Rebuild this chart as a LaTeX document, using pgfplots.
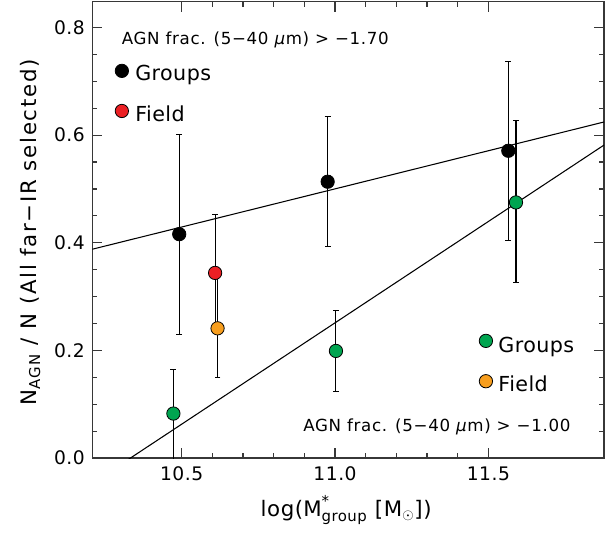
\documentclass[border=0pt]{standalone}
\usepackage{pgfplots}
\pgfplotsset{compat=1.18}
\usepackage{amsmath}
\usepackage{fontspec}
\setmainfont{DejaVu Sans}
\definecolor{axgray}{RGB}{55,55,55}
\definecolor{ptred}{RGB}{236,32,36}
\definecolor{ptgreen}{RGB}{0,165,80}
\definecolor{ptorange}{RGB}{247,158,30}
\begin{document}
\begin{tikzpicture}
\begin{axis}[
  at={(0,0)}, anchor=south west, scale only axis,
  width=383.8pt, height=342.2pt,
  xmin=10.2085, xmax=11.877, ymin=0, ymax=0.848,
  xtick={10.5,11.0,11.5}, minor x tick num=4,
  ytick={0,0.2,0.4,0.6,0.8}, minor y tick num=3,
  major tick length=7.5pt, minor tick length=3.6pt,
  axis line style={line width=1.1pt, axgray},
  every tick/.style={axgray, line width=0.9pt},
  tick label style={font=\fontsize{14}{16}\selectfont\addfontfeatures{LetterSpace=3}},
  /pgf/number format/fixed,
  /pgf/number format/fixed zerofill,
  /pgf/number format/precision=1,
  /pgf/number format/assume math mode=true,
  xticklabel style={yshift=-3pt},
  yticklabel style={xshift=-2pt},
  xlabel={log($\text{M}^{\text{*}}_{\text{group}}$ [M$_\odot$])},
  ylabel={N\textsubscript{AGN} / N (All far−IR selected)},
  xlabel style={at={(axis description cs:0.496,-0.114)}, anchor=center,
    font=\fontsize{16}{18}\selectfont\addfontfeatures{LetterSpace=3}},
  ylabel style={at={(axis description cs:-0.121,0.495)}, anchor=center,
    font=\fontsize{16}{18}\selectfont\addfontfeatures{LetterSpace=8}},
  clip=true,
]
% fit lines
\addplot[black, line width=0.8pt] coordinates {(10.2085,0.388) (11.877,0.6245)};
\addplot[black, line width=0.8pt] coordinates {(10.30,-0.0125) (11.877,0.5816)};

% Groups, AGN frac > -1.70 (black)
\addplot[only marks, mark=*, mark size=5pt, black,
  mark options={fill=black, draw=black, line width=0.6pt},
  error bars/.cd, y dir=both, y explicit,
  error bar style={line width=0.8pt, black},
  error mark options={rotate=90, mark size=2.2pt, line width=0.8pt, black}]
  coordinates {
  (10.492,0.416) += (0,0.186) -= (0,0.186)
  (10.976,0.5135) += (0,0.121) -= (0,0.121)
  (11.565,0.571) += (0,0.166) -= (0,0.166)
  };
% Field, AGN frac > -1.70 (red)
\addplot[only marks, mark=*, mark size=5pt, black,
  mark options={fill=ptred, draw=black, line width=0.6pt},
  error bars/.cd, y dir=both, y explicit,
  error bar style={line width=0.8pt, black},
  error mark options={rotate=90, mark size=2.2pt, line width=0.8pt, black}]
  coordinates {
  (10.609,0.344) += (0,0.109) -= (0,0.100)
  };
% Field, AGN frac > -1.00 (orange)
\addplot[only marks, mark=*, mark size=5pt, black,
  mark options={fill=ptorange, draw=black, line width=0.6pt},
  error bars/.cd, y dir=both, y explicit,
  error bar style={line width=0.8pt, black},
  error mark options={rotate=90, mark size=2.2pt, line width=0.8pt, black}]
  coordinates {
  (10.617,0.241) += (0,0.100) -= (0,0.092)
  };
% Groups, AGN frac > -1.00 (green)
\addplot[only marks, mark=*, mark size=5pt, black,
  mark options={fill=ptgreen, draw=black, line width=0.6pt},
  error bars/.cd, y dir=both, y explicit,
  error bar style={line width=0.8pt, black},
  error mark options={rotate=90, mark size=2.2pt, line width=0.8pt, black}]
  coordinates {
  (10.473,0.0826) += (0,0.0814) -= (0,0.13)
  (11.003,0.199) += (0,0.076) -= (0,0.075)
  (11.59,0.475) += (0,0.152) -= (0,0.149)
  };

% legend markers
\addplot[only marks, mark=*, mark size=5pt, mark options={fill=black, draw=black, line width=0.6pt}] coordinates {(10.305,0.7195)};
\addplot[only marks, mark=*, mark size=5pt, mark options={fill=ptred, draw=black, line width=0.6pt}] coordinates {(10.305,0.645)};
\addplot[only marks, mark=*, mark size=5pt, mark options={fill=ptgreen, draw=black, line width=0.6pt}] coordinates {(11.492,0.2177)};
\addplot[only marks, mark=*, mark size=5pt, mark options={fill=ptorange, draw=black, line width=0.6pt}] coordinates {(11.492,0.1427)};

\node[anchor=base west, inner sep=0, font=\fontsize{12.5}{14}\selectfont\addfontfeatures{LetterSpace=4}] at (axis cs:10.304,0.7676) {AGN frac. (5−40 \textit{μ}m) > −1.70};
\node[anchor=base west, inner sep=0, font=\fontsize{15.5}{17}\selectfont\addfontfeatures{LetterSpace=2}] at (axis cs:10.348,0.7018) {Groups};
\node[anchor=base west, inner sep=0, font=\fontsize{15.5}{17}\selectfont\addfontfeatures{LetterSpace=2}] at (axis cs:10.348,0.625) {Field};
\node[anchor=base west, inner sep=0, font=\fontsize{15.5}{17}\selectfont\addfontfeatures{LetterSpace=2}] at (axis cs:11.532,0.197) {Groups};
\node[anchor=base west, inner sep=0, font=\fontsize{15.5}{17}\selectfont\addfontfeatures{LetterSpace=2}] at (axis cs:11.532,0.124) {Field};
\node[anchor=base west, inner sep=0, font=\fontsize{12.5}{14}\selectfont\addfontfeatures{LetterSpace=4}] at (axis cs:10.896,0.0484) {AGN frac. (5−40 \textit{μ}m) > −1.00};
\end{axis}
\pgfresetboundingbox
\useasboundingbox (-69.2pt,-57.75pt) rectangle (384.55pt,343.5pt);
\end{tikzpicture}
\end{document}
